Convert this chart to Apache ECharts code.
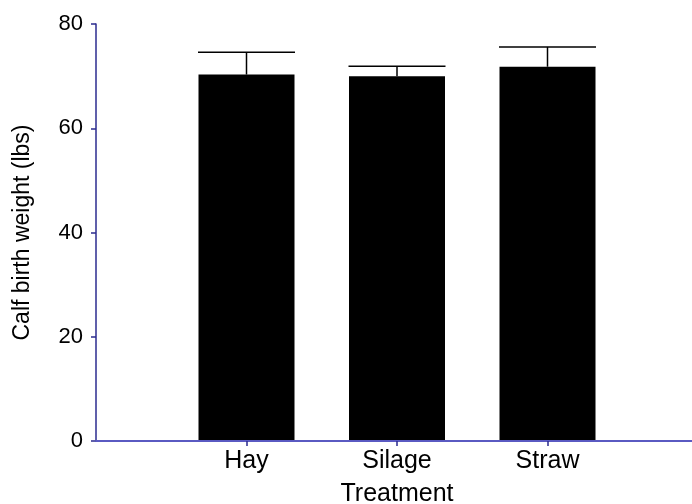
<!DOCTYPE html>
<html><head><meta charset="utf-8">
<script src="https://cdn.jsdelivr.net/npm/echarts@6/dist/echarts.min.js"></script>
<style>html,body{margin:0;padding:0;background:#fff}#c{width:692px;height:504px}</style>
</head><body><div id="c"></div>
<script>
var categories = ['', 'Hay', 'Silage', 'Straw', ''];
var means = [null, 70.3, 70.0, 71.8, null];
var errors = [null, 4.3, 1.9, 3.8, null];
var yTicks = [0, 20, 40, 60, 80];

var chart = echarts.init(document.getElementById('c'), null, {renderer: 'canvas'});
var font = 'Liberation Sans, Arial, sans-serif';
var errData = [];
for (var i = 0; i < categories.length; i++) {
  if (means[i] != null) errData.push([i, means[i], means[i] + errors[i]]);
}
chart.setOption({
  animation: false,
  grid: {left: 96, right: -6, top: 24, bottom: 63, containLabel: false, outerBoundsMode: 'none'},
  xAxis: {
    type: 'category', data: categories, boundaryGap: false, z: 5,
    name: 'Treatment', nameLocation: 'middle', nameGap: 41,
    nameTextStyle: {fontFamily: font, fontSize: 25, color: '#000'},
    axisLine: {show: true, lineStyle: {color: '#5a5ac2', width: 2}},
    axisTick: {show: true, length: 5, interval: function (idx) { return idx >= 1 && idx <= 3; }, lineStyle: {color: '#2b2b8f', width: 1.5}},
    axisLabel: {interval: 0, margin: 8, fontFamily: font, fontSize: 25, color: '#000'},
    splitLine: {show: false}
  },
  yAxis: {
    type: 'value', min: yTicks[0], max: yTicks[yTicks.length - 1], interval: 20,
    name: 'Calf birth weight (lbs)', nameLocation: 'middle', nameGap: 62,
    nameTextStyle: {fontFamily: font, fontSize: 23, color: '#000'},
    axisLine: {show: true, lineStyle: {color: '#2b2b8f', width: 1.5}},
    axisTick: {show: true, length: 5, lineStyle: {color: '#2b2b8f', width: 1.5}},
    axisLabel: {margin: 13, fontFamily: font, fontSize: 22, color: '#000'},
    splitLine: {show: false}
  },
  series: [
    {
      type: 'bar', data: means, barWidth: 96, z: 2,
      itemStyle: {color: '#000'}
    },
    {
      type: 'custom', z: 3, data: errData,
      renderItem: function (params, api) {
        var x = api.value(0);
        var top = api.coord([x, api.value(2)]);
        var base = api.coord([x, api.value(1)]);
        var half = 48.5;
        return {
          type: 'group',
          children: [
            {type: 'line', shape: {x1: top[0], y1: top[1], x2: base[0], y2: base[1]}, style: {stroke: '#000', lineWidth: 1.5}},
            {type: 'line', shape: {x1: top[0] - half, y1: top[1], x2: top[0] + half, y2: top[1]}, style: {stroke: '#000', lineWidth: 1.5}}
          ]
        };
      }
    }
  ]
});
</script></body></html>
